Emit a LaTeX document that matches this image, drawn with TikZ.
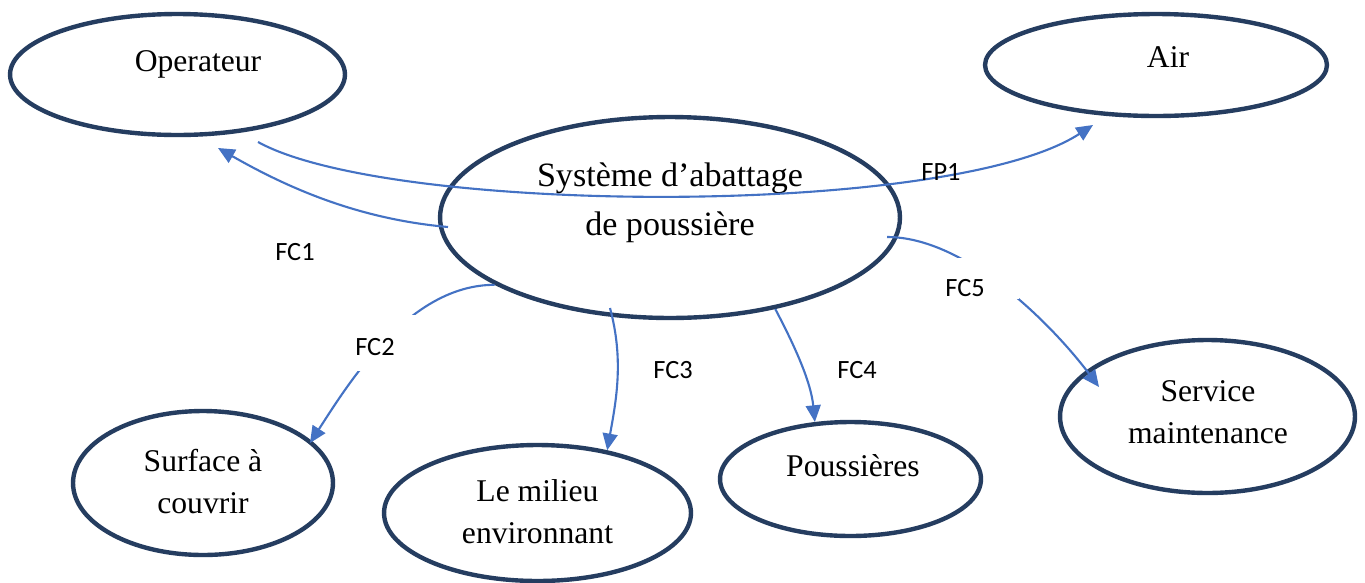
\documentclass[tikz,border=0pt]{standalone}
\usepackage{fontspec}
\setmainfont{Liberation Serif}
\newfontfamily\lblfont{Carlito}
\usetikzlibrary{arrows.meta,shapes.geometric}
\definecolor{ellcol}{RGB}{37,61,96}
\definecolor{arrcol}{RGB}{68,114,196}
\begin{document}
\begin{tikzpicture}[x=0.02cm,y=-0.02cm,
  ell/.style={ellipse,draw=ellcol,line width=2.5pt,inner sep=0pt},
  txt/.style={font=\fontsize{18}{23.8}\selectfont,align=center,anchor=base,inner sep=0pt},
  bigtxt/.style={font=\fontsize{19.4}{27.6}\selectfont,align=center,anchor=base,inner sep=0pt},
  lbl/.style={font=\lblfont\fontsize{15}{18}\selectfont,anchor=base,inner sep=0pt},
  conn/.style={draw=arrcol,line width=1.2pt,-{Triangle[length=9.5pt,width=8.5pt]}},
  masque/.style={fill=white,draw=none}]
\path[use as bounding box,fill=white] (0,0) rectangle (1365,582);
% ellipses
\node[ell,minimum width=6.70cm,minimum height=2.42cm] (op) at (177.5,74.5) {};
\node[ell,minimum width=6.84cm,minimum height=2.04cm] (air) at (1156,65) {};
\node[ell,minimum width=9.20cm,minimum height=4.02cm] (sys) at (670,217.5) {};
\node[ell,minimum width=5.20cm,minimum height=2.88cm] (surf) at (203,483) {};
\node[ell,minimum width=6.14cm,minimum height=2.72cm] (mil) at (537.5,513) {};
\node[ell,minimum width=5.22cm,minimum height=2.28cm] (pous) at (850.5,479) {};
\node[ell,minimum width=5.90cm,minimum height=3.06cm] (serv) at (1207.5,416.5) {};
% texts (anchor base = baseline of the last line)
\node[txt] (op-t) at (198,71) {Operateur};
\node[txt] (air-t) at (1168,67) {Air};
\node[bigtxt] (sys-t) at (670,235) {Système d’abattage\\de poussière};
\node[txt] (surf-t) at (203,513) {Surface à\\couvrir};
\node[txt] (mil-t) at (537.5,543) {Le milieu\\environnant};
\node[txt] (pous-t) at (853,476) {Poussières};
\node[txt] (serv-t) at (1208,443) {Service\\maintenance};
% connector end points
\coordinate (fp1s) at (258,142);
\coordinate (fp1e) at (1093,125);
\coordinate (fc1s) at (448,227);
\coordinate (fc1e) at (218,148);
\coordinate (fc2e) at (310,443);
\coordinate (fc3s) at (610,308);
\coordinate (fc5s) at (887,237);
\coordinate (fc5e) at (1099,387);
% connectors
\draw[conn] (fp1s) .. controls +(132,73) and +(-143,93) .. (fp1e);
\draw[conn] (fc1s) .. controls +(-90,-8) and +(70,40) .. (fc1e);
\draw[conn] (sys.201.7) .. controls +(-85,0) and +(40,-62) .. (fc2e);
\draw[conn] (fc3s) .. controls +(14,52) and +(9,-50) .. (mil.42.2);
\draw[conn] (sys.-41.6) .. controls +(20,38) and +(-4,-40) .. (pous.122.2);
\draw[conn] (fc5s) .. controls +(80,0) and +(-45,-60) .. (fc5e);
% text boxes hiding parts of the connectors
\path[masque] (335,315) rectangle (417,371);
\path[masque] (915,258) rectangle (1019,299);
% labels
\node[lbl] (fp1) at (941,180) {FP1};
\node[lbl] (fc1) at (295,260) {FC1};
\node[lbl] (fc2) at (375,355) {FC2};
\node[lbl] (fc3) at (673,378) {FC3};
\node[lbl] (fc4) at (857,378) {FC4};
\node[lbl] (fc5) at (965,296) {FC5};
\end{tikzpicture}
\end{document}
